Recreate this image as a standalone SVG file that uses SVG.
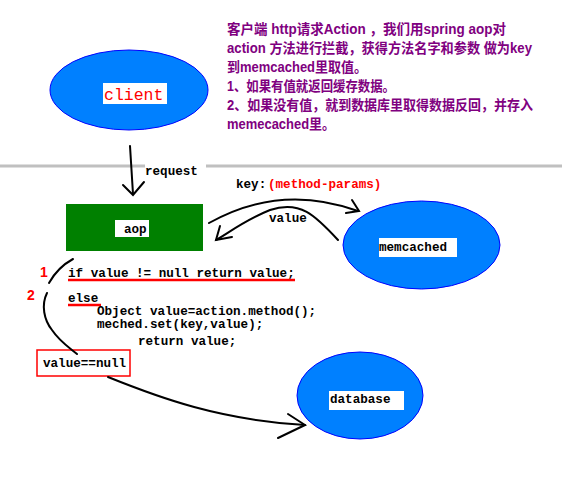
<svg xmlns="http://www.w3.org/2000/svg" width="562" height="492" viewBox="0 0 562 492">
<style>
.ell{fill:#0080ff;stroke:#0000ff;stroke-width:1}
.lbl{fill:#fff}
.mono{font-family:"Liberation Mono","DejaVu Sans Mono",monospace;font-weight:bold;font-size:12.6px;fill:#000}
.rmono{fill:#ff0000}
.note{font-family:"Liberation Sans","Noto Sans CJK SC",sans-serif;font-weight:bold;font-size:14px;fill:#800080}
.ln{fill:none;stroke:#000;stroke-width:2;stroke-linecap:round}
.red{fill:none;stroke:#ff0000;stroke-width:2.5}
.num{font-family:"Liberation Sans",sans-serif;font-weight:bold;font-size:14px;fill:#ff0000}
</style>
<rect width="562" height="492" fill="#fff"/>
<line x1="0" y1="166" x2="145" y2="166" stroke="#c0c0c0" stroke-width="3"/>
<line x1="206" y1="166" x2="562" y2="166" stroke="#c0c0c0" stroke-width="3"/>
<g id="note">
<text class="note" x="227" y="34" textLength="279" lengthAdjust="spacingAndGlyphs">客户端 http请求Action ，我们用spring aop对</text>
<text class="note" x="227" y="53" textLength="305" lengthAdjust="spacingAndGlyphs">action 方法进行拦截，获得方法名字和参数 做为key</text>
<text class="note" x="227" y="72" textLength="140" lengthAdjust="spacingAndGlyphs">到memcached里取值。</text>
<text class="note" x="227" y="91" textLength="168" lengthAdjust="spacingAndGlyphs">1、如果有值就返回缓存数据。</text>
<text class="note" x="227" y="110" textLength="306" lengthAdjust="spacingAndGlyphs">2、如果没有值，就到数据库里取得数据反回，并存入</text>
<text class="note" x="227" y="129" textLength="108" lengthAdjust="spacingAndGlyphs">memecached里。</text>
</g>
<g id="client">
<ellipse class="ell" cx="129" cy="90" rx="79" ry="40"/>
<rect class="lbl" x="103" y="83" width="64" height="21"/>
<text x="104" y="100" font-family="Liberation Mono,monospace" font-size="16.5" fill="#ff0000">client</text>
</g>
<g id="aop">
<rect x="66" y="204" width="137" height="47" fill="#008000"/>
<rect class="lbl" x="115" y="220" width="34" height="17"/>
<text class="mono" x="124" y="233">aop</text>
</g>
<g id="memcached">
<ellipse class="ell" cx="421.5" cy="245" rx="78.5" ry="44"/>
<rect class="lbl" x="379" y="238" width="78" height="19"/>
<text class="mono" x="379" y="251">memcached</text>
</g>
<g id="database">
<ellipse class="ell" cx="360" cy="395.5" rx="63" ry="43.5"/>
<rect class="lbl" x="329" y="391" width="75" height="19"/>
<text class="mono" x="330" y="403">database</text>
</g>
<g id="code">
<text class="mono" x="68" y="277">if value != null return value;</text>
<line class="red" x1="68" y1="280" x2="295" y2="280"/>
<text class="mono" x="68" y="302">else</text>
<line class="red" x1="68" y1="305" x2="101" y2="305"/>
<text class="mono" x="97" y="315">Object value=action.method();</text>
<text class="mono" x="97" y="328">meched.set(key,value);</text>
<text class="mono" x="138" y="345">return value;</text>
<text class="num" x="40" y="277">1</text>
<text class="num" x="27" y="300">2</text>
</g>
<g id="cond">
<rect x="37" y="350" width="93" height="26" fill="#fff" stroke="#ff0000" stroke-width="1.5"/>
<text class="mono" x="43" y="367">value==null</text>
</g>
<g id="connectors">
<path class="ln" d="M130,146 L133,194"/>
<path class="ln" d="M123,185 L133,195 L144,182"/>
<text class="mono" x="145" y="175">request</text>
<path class="ln" d="M209,223 C250,200 300,190 358,211"/>
<path class="ln" d="M352,200 L359,211 L346,213"/>
<text class="mono" x="236" y="188">key:</text>
<text class="mono rmono" x="268" y="188">(method-params)</text>
<path class="ln" d="M338,240 C315,215 300,200 270,210 C245,220 230,232 216,240"/>
<path class="ln" d="M220,226 L216,240 L232,237"/>
<text class="mono" x="269" y="222">value</text>
<path class="ln" d="M73,259 C62,265 54,274 49,283"/>
<path class="ln" d="M47,293 C41,305 44,320 52,330 C60,342 70,348 77,354"/>
<path class="ln" d="M108,377 C160,398 220,420 305,425"/>
<path class="ln" d="M288,414 L305,425 L278,438"/>
</g>
</svg>
